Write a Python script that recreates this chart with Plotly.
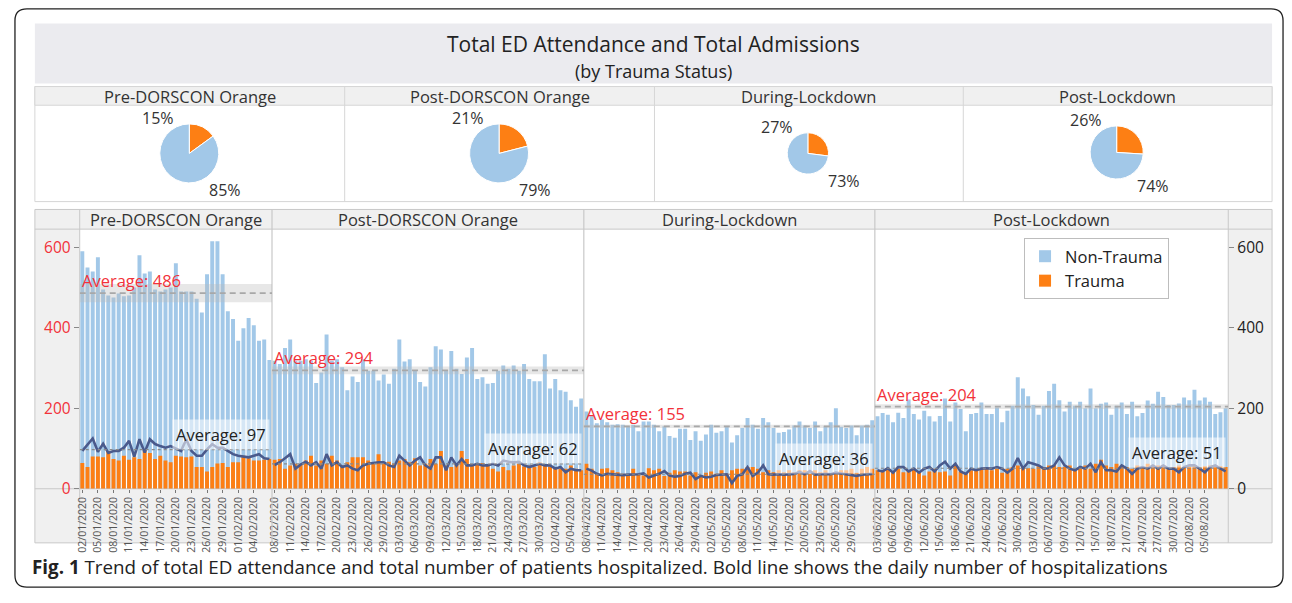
import numpy as np
import pandas as pd
import plotly.graph_objects as go

W, H = 1292, 603

# ---------------- data ----------------
periods = ["Pre-DORSCON Orange", "Post-DORSCON Orange", "During-Lockdown", "Post-Lockdown"]
start_date = "2020-01-02"

total_pre = [590, 550, 540, 575, 495, 480, 475, 485, 478, 480,
             500, 580, 535, 540, 495, 490, 495, 500, 560, 490,
             490, 490, 472, 438, 533, 615, 615, 533, 441, 422,
             368, 399, 424, 406, 368, 371, 320]
total_post = [318, 310, 350, 371, 318, 318, 322, 318, 263, 289,
              383, 318, 322, 302, 245, 279, 265, 322, 293, 293,
              269, 284, 261, 298, 371, 316, 322, 293, 265, 254,
              302, 354, 346, 295, 342, 298, 285, 326, 350, 273,
              277, 261, 263, 293, 306, 298, 306, 293, 310, 273,
              267, 267, 334, 249, 273, 245, 241, 220, 204, 224]
total_during = [192, 180, 163, 172, 165, 159, 160, 159, 155, 159,
                143, 167, 167, 159, 143, 155, 131, 127, 149, 149,
                121, 143, 119, 135, 159, 139, 143, 155, 115, 133,
                151, 176, 159, 149, 176, 165, 151, 139, 141, 147,
                157, 167, 157, 151, 167, 143, 155, 165, 200, 154,
                151, 157, 133, 157, 159, 170]
total_postlock = [180, 188, 184, 165, 189, 176, 222, 186, 172, 194,
                  180, 167, 181, 224, 167, 214, 198, 143, 186, 188,
                  214, 186, 186, 202, 165, 194, 206, 277, 249, 230,
                  208, 184, 206, 243, 261, 220, 192, 216, 206, 216,
                  200, 249, 200, 211, 214, 184, 206, 214, 186, 216,
                  180, 188, 219, 211, 241, 228, 208, 208, 212, 227,
                  220, 246, 219, 227, 216, 186, 190, 200]

trauma_pre = [64, 54, 80, 80, 78, 94, 74, 70, 82, 72,
              78, 74, 94, 89, 74, 82, 70, 66, 82, 80,
              78, 80, 54, 54, 43, 54, 63, 64, 54, 66,
              66, 82, 76, 70, 70, 72, 74]
trauma_post = [72, 74, 50, 58, 62, 62, 70, 82, 58, 70,
               62, 82, 70, 58, 66, 78, 78, 78, 70, 66,
               86, 62, 67, 62, 70, 74, 66, 76, 58, 62,
               74, 62, 94, 58, 54, 59, 94, 74, 58, 59,
               64, 58, 50, 43, 54, 46, 58, 62, 55, 58,
               54, 66, 58, 55, 54, 50, 50, 58, 50, 46]
trauma_during = [62, 50, 37, 50, 51, 46, 41, 37, 33, 50,
                 37, 33, 51, 46, 50, 32, 40, 46, 43, 43,
                 33, 41, 29, 40, 43, 37, 46, 37, 46, 50,
                 50, 54, 54, 50, 41, 46, 41, 46, 41, 46,
                 41, 46, 46, 37, 46, 41, 46, 37, 40, 46,
                 46, 50, 40, 50, 54, 50]
trauma_postlock = [46, 43, 50, 41, 50, 41, 46, 50, 40, 33,
                   43, 50, 41, 43, 33, 58, 43, 40, 46, 46,
                   50, 50, 46, 50, 40, 50, 54, 58, 54, 51,
                   50, 56, 54, 58, 58, 54, 54, 58, 50, 54,
                   58, 50, 62, 72, 58, 54, 62, 58, 54, 50,
                   58, 54, 62, 54, 58, 58, 50, 54, 58, 54,
                   56, 58, 54, 56, 58, 54, 56, 54]

adm_pre = [94, 110, 125, 92, 112, 89, 94, 94, 102, 119,
           80, 123, 90, 123, 111, 106, 102, 106, 100, 94,
           123, 94, 82, 82, 98, 111, 102, 102, 94, 86,
           82, 80, 78, 82, 86, 76, 74]
adm_post = [59, 66, 76, 86, 50, 60, 67, 58, 66, 50,
            86, 58, 66, 54, 58, 50, 46, 58, 62, 64,
            66, 66, 58, 54, 82, 70, 58, 70, 78, 58,
            50, 78, 78, 46, 78, 58, 74, 58, 58, 62,
            58, 58, 62, 58, 70, 67, 66, 67, 58, 54,
            58, 62, 58, 58, 50, 54, 41, 50, 46, 46]
adm_during = [50, 45, 37, 33, 37, 36, 35, 34, 35, 35,
              36, 38, 28, 33, 37, 44, 33, 30, 32, 37,
              40, 24, 32, 28, 30, 34, 35, 36, 14, 32,
              36, 54, 32, 40, 58, 36, 35, 36, 35, 36,
              37, 42, 36, 44, 35, 36, 37, 36, 40, 38,
              36, 35, 32, 35, 36, 37]
adm_postlock = [46, 43, 51, 40, 54, 54, 43, 50, 40, 50,
                54, 43, 58, 67, 50, 62, 43, 37, 50, 46,
                50, 51, 50, 54, 50, 40, 50, 76, 50, 66,
                62, 58, 50, 51, 58, 78, 58, 50, 46, 54,
                50, 62, 41, 66, 46, 46, 43, 58, 50, 37,
                50, 54, 50, 58, 50, 58, 50, 50, 41, 54,
                58, 58, 50, 41, 54, 58, 50, 43]

avg_total = [486, 294, 155, 204]
avg_adm = [97, 62, 36, 51]
pie_trauma_pct = [15, 21, 27, 26]
pie_nontrauma_pct = [85, 79, 73, 74]
y_ticks = [0, 200, 400, 600]

totals = [total_pre, total_post, total_during, total_postlock]
traumas = [trauma_pre, trauma_post, trauma_during, trauma_postlock]
adms = [adm_pre, adm_post, adm_during, adm_postlock]

# ---------------- styling ----------------
C_NON = "#a2c8e8"
C_TR = "#fd7f14"
C_LINE = "#4a5a8c"
C_RED = "#f2323a"
C_BORDER = "#c8c8c8"
C_GRAYBG = "#f0f0f0"
FONT = "Open Sans"


def X(px):
    return px / W


def Y(py):
    return 1 - py / H


n = [len(t) for t in totals]
starts = [int(s) for s in np.cumsum([0] + n[:-1])]
N = sum(n)
dates = pd.date_range(start_date, periods=N, freq="D")

tickvals, ticktext = [], []
for p in range(4):
    for k in range(0, n[p] - 2, 3):
        idx = starts[p] + k
        tickvals.append(idx)
        ticktext.append(dates[idx].strftime("%d/%m/%Y"))

fig = go.Figure()

all_x = list(range(N))
all_total = sum(totals, [])
all_trauma = sum(traumas, [])

fig.add_trace(go.Bar(x=all_x, y=all_total, name="Non-Trauma", marker_color=C_NON,
                     marker_line_width=0, width=0.76, legendrank=1, hoverinfo="skip"))
fig.add_trace(go.Bar(x=all_x, y=all_trauma, name="Trauma", marker_color=C_TR,
                     marker_line_width=0, width=0.76, legendrank=2, hoverinfo="skip"))
for p in range(4):
    xs = list(range(starts[p], starts[p] + n[p]))
    fig.add_trace(go.Scatter(x=xs, y=adms[p], mode="lines", line=dict(color=C_LINE, width=2.6),
                             showlegend=False, hoverinfo="skip"))
# invisible trace so that the right axis is drawn
fig.add_trace(go.Scatter(x=[0], y=[0], yaxis="y2", mode="markers", marker=dict(opacity=0),
                         showlegend=False, hoverinfo="skip"))

# ---------------- pies ----------------
pie_cx = [185, 496, 806, 1116]
pie_cy = [156, 156, 156, 155]
pie_r = [30, 30, 21, 27]
for p in range(4):
    cx, cy, r = pie_cx[p], pie_cy[p], pie_r[p]
    fig.add_trace(go.Pie(values=[pie_trauma_pct[p], pie_nontrauma_pct[p]],
                         labels=["Trauma", "Non-Trauma"],
                         marker=dict(colors=[C_TR, C_NON], line=dict(color="white", width=1)),
                         sort=False, direction="counterclockwise", rotation=0,
                         textinfo="none", hoverinfo="skip", showlegend=False,
                         domain=dict(x=[X(cx - r), X(cx + r)], y=[Y(cy + r), Y(cy - r)])))

# ---------------- shapes ----------------
shapes = []


def rect(x0, y0, x1, y1, fill, line=None, layer="below", lw=1):
    shapes.append(dict(type="rect", xref="paper", yref="paper", x0=X(x0), x1=X(x1),
                       y0=Y(y1), y1=Y(y0), fillcolor=fill,
                       line=dict(color=line if line else "rgba(0,0,0,0)", width=lw if line else 0),
                       layer=layer))


def hline(x0, x1, y, color=C_BORDER, layer="below"):
    shapes.append(dict(type="line", xref="paper", yref="paper", x0=X(x0), x1=X(x1),
                       y0=Y(y), y1=Y(y), line=dict(color=color, width=1), layer=layer))


def vline(x, y0, y1, color=C_BORDER, layer="below"):
    shapes.append(dict(type="line", xref="paper", yref="paper", x0=X(x), x1=X(x),
                       y0=Y(y0), y1=Y(y1), line=dict(color=color, width=1), layer=layer))


# outer rounded frame
x0f, y0f, x1f, y1f, rr = 10, 9, 1283, 597, 12
path = (f"M {X(x0f + rr)},{Y(y0f)} L {X(x1f - rr)},{Y(y0f)} "
        f"Q {X(x1f)},{Y(y0f)} {X(x1f)},{Y(y0f + rr)} L {X(x1f)},{Y(y1f - rr)} "
        f"Q {X(x1f)},{Y(y1f)} {X(x1f - rr)},{Y(y1f)} L {X(x0f + rr)},{Y(y1f)} "
        f"Q {X(x0f)},{Y(y1f)} {X(x0f)},{Y(y1f - rr)} L {X(x0f)},{Y(y0f + rr)} "
        f"Q {X(x0f)},{Y(y0f)} {X(x0f + rr)},{Y(y0f)} Z")
shapes.append(dict(type="path", xref="paper", yref="paper", path=path,
                   line=dict(color="#222", width=1.3), layer="below"))

# title block
rect(30, 24, 1272, 85, "#ebebef")
# pie block
rect(30, 88, 1272, 205, "white", "#d6d6d6")
rect(30, 88, 1272, 107, C_GRAYBG, "#d6d6d6")
for xv in [341, 652, 962]:
    vline(xv, 88, 205, "#d6d6d6")
# chart block
rect(30, 213, 1272, 552, C_GRAYBG, C_BORDER)
rect(75, 233, 1228, 497, "white")
hline(30, 1272, 233)
hline(30, 1272, 497)
vline(75, 213, 552)
vline(1228, 213, 552)

# panel separators
for p in range(1, 4):
    xb = starts[p] - 0.5
    shapes.append(dict(type="line", xref="x", yref="paper", x0=xb, x1=xb, y0=Y(552), y1=Y(213),
                       line=dict(color=C_BORDER, width=1.2), layer="above"))

# averages
for p in range(4):
    xa, xb = starts[p] - 0.5, starts[p] + n[p] - 0.5
    arr = np.array(totals[p], dtype=float)
    ci = 1.96 * arr.std(ddof=1) / np.sqrt(len(arr))
    shapes.append(dict(type="rect", xref="x", yref="y", x0=xa, x1=xb,
                       y0=avg_total[p] - ci, y1=avg_total[p] + ci,
                       fillcolor="rgba(185,185,185,0.35)", line=dict(width=0), layer="above"))
    shapes.append(dict(type="line", xref="x", yref="y", x0=xa, x1=xb,
                       y0=avg_total[p], y1=avg_total[p],
                       line=dict(color="#a8a8a8", width=1.6, dash="6px,4px"), layer="above"))
    shapes.append(dict(type="line", xref="x", yref="y", x0=xa, x1=xb,
                       y0=avg_adm[p], y1=avg_adm[p],
                       line=dict(color="#8a8a8a", width=1.2, dash="dot"), layer="above"))

# ---------------- annotations ----------------
ann = []


def ptext(text, x, y, size, color="#222", xanchor="center", yanchor="middle"):
    ann.append(dict(text=text, x=X(x), y=Y(y), xref="paper", yref="paper", showarrow=False,
                    xanchor=xanchor, yanchor=yanchor, font=dict(size=size, color=color)))


ptext("Total ED Attendance and Total Admissions", 651, 45, 21)
ptext("(by Trauma Status)", 651, 72, 18)
col_centers = [185.5, 496.5, 807, 1117]
for p in range(4):
    ptext(periods[p], col_centers[p], 98, 16.5, "#333")
    cx, cy, r = pie_cx[p], pie_cy[p], pie_r[p]
    ptext(f"{pie_trauma_pct[p]}%", cx - 31, cy - r - 6, 16, "#333")
    ptext(f"{pie_nontrauma_pct[p]}%", cx + 36, cy + r + 7, 16, "#333")
    # chart panel headers
    ann.append(dict(text=periods[p], x=starts[p] + (n[p] - 1) / 2, y=Y(223), xref="x",
                    yref="paper", xanchor="center", yanchor="middle", showarrow=False,
                    font=dict(size=16.5, color="#333")))
    # average labels
    ann.append(dict(text=f"Average: {avg_total[p]}", x=starts[p] - 0.5, y=avg_total[p],
                    xref="x", yref="y", xanchor="left", yanchor="bottom", xshift=0, yshift=-1,
                    showarrow=False, font=dict(size=16.5, color=C_RED)))
    ann.append(dict(text=f"Average: {avg_adm[p]}", x=starts[p] + n[p] - 0.5, y=avg_adm[p],
                    xref="x", yref="y", xanchor="right", yanchor="bottom", xshift=-2,
                    showarrow=False, bgcolor="rgba(255,255,255,0.55)", borderpad=3,
                    font=dict(size=16.5, color="#222")))

ptext("<b>Fig. 1</b> Trend of total ED attendance and total number of patients "
      "hospitalized. Bold line shows the daily number of hospitalizations",
      25, 577, 18.8, "#222", xanchor="left")

fig.update_layout(
    width=W, height=H,
    margin=dict(l=0, r=0, t=0, b=0),
    paper_bgcolor="white",
    plot_bgcolor="rgba(0,0,0,0)",
    font=dict(family=FONT, color="#222"),
    barmode="overlay",
    shapes=shapes,
    annotations=ann,
    legend=dict(x=X(1023), y=Y(242), xanchor="left", yanchor="top", bgcolor="white",
                bordercolor="#bdbdbd", borderwidth=1, font=dict(size=16.5, color="#222"),
                itemwidth=30, tracegroupgap=0),
    xaxis=dict(domain=[X(75), X(1228)], range=[-0.5, N - 0.5], showgrid=False, zeroline=False,
               tickmode="array", tickvals=tickvals, ticktext=ticktext, tickangle=-90,
               ticks="outside", ticklen=3, tickcolor="#777",
               tickfont=dict(size=10.5, color="#555"), showline=False, fixedrange=True),
    yaxis=dict(domain=[Y(497), Y(233)], range=[0, 645], showgrid=False, zeroline=False,
               tickmode="array", tickvals=y_ticks, ticks="outside", ticklen=5,
               tickcolor="#888", tickfont=dict(size=15.5, color=C_RED), showline=False),
    yaxis2=dict(overlaying="y", side="right", anchor="x", range=[0, 645], showgrid=False,
                zeroline=False, tickmode="array", tickvals=y_ticks, ticks="outside",
                ticklen=5, tickcolor="#888", tickfont=dict(size=15.5, color="#222"),
                showline=False),
)

# the figure fills the whole 1292x603 window: drop the page's default body margin
fig.write_html("out.html",
               config={"displayModeBar": False, "staticPlot": True},
               post_script="document.body.style.margin='0';document.body.style.overflow='hidden';")
